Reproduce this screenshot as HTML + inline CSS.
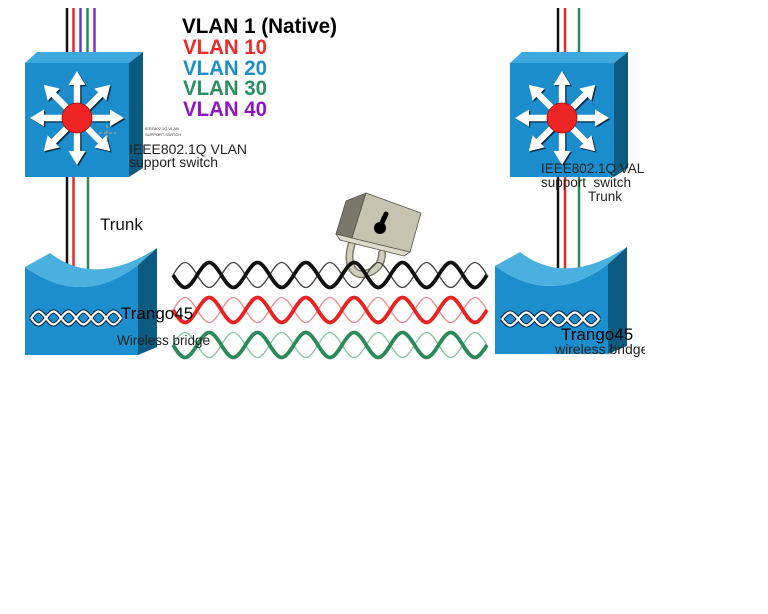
<!DOCTYPE html>
<html><head><meta charset="utf-8"><style>
html,body{margin:0;padding:0;background:#fff;}
svg{display:block;}
text{font-family:"Liberation Sans",Arial,sans-serif;}
</style></head><body>
<svg width="768" height="614" viewBox="0 0 768 614" xmlns="http://www.w3.org/2000/svg">
<defs>
  <polygon id="arr" points="14,-3.2 33,-3.2 33,-8.5 47,0 33,8.5 33,3.2 14,3.2"/>
  <g id="arrows">
    <g fill="#0b2a40" transform="translate(1.3,1.3)">
      <use href="#arr"/><use href="#arr" transform="rotate(45)"/><use href="#arr" transform="rotate(90)"/><use href="#arr" transform="rotate(135)"/>
      <use href="#arr" transform="rotate(180)"/><use href="#arr" transform="rotate(225)"/><use href="#arr" transform="rotate(270)"/><use href="#arr" transform="rotate(315)"/>
    </g>
    <g fill="#ffffff">
      <use href="#arr"/><use href="#arr" transform="rotate(45)"/><use href="#arr" transform="rotate(90)"/><use href="#arr" transform="rotate(135)"/>
      <use href="#arr" transform="rotate(180)"/><use href="#arr" transform="rotate(225)"/><use href="#arr" transform="rotate(270)"/><use href="#arr" transform="rotate(315)"/>
    </g>
    <circle cx="0" cy="0" r="15" fill="#ee2424" stroke="#9a1010" stroke-width="0.8"/>
  </g>
  <g id="switch">
    <polygon points="25,63 37,52 143,52 129,63" fill="#3fa9dd"/>
    <polygon points="129,63 143,52 143,168 129,177" fill="#0b5a80"/>
    <rect x="25" y="63" width="104" height="114" fill="#1b8ccc"/>
    <use href="#arrows" transform="translate(77,118)"/>
  </g>
  <path id="hxA" d="M0,0 c6.36,8.67 8.64,8.67 15,0 c6.36,-8.67 8.64,-8.67 15,0 c6.36,8.67 8.64,8.67 15,0 c6.36,-8.67 8.64,-8.67 15,0 c6.36,8.67 8.64,8.67 15,0 c6.36,-8.67 8.64,-8.67 15,0" fill="none"/>
  <path id="hxB" d="M0,0 c6.36,-8.67 8.64,-8.67 15,0 c6.36,8.67 8.64,8.67 15,0 c6.36,-8.67 8.64,-8.67 15,0 c6.36,8.67 8.64,8.67 15,0 c6.36,-8.67 8.64,-8.67 15,0 c6.36,8.67 8.64,8.67 15,0" fill="none"/>
  <g id="helix">
    <use href="#hxA" stroke="#0a2a40" stroke-width="4.2"/>
    <use href="#hxB" stroke="#0a2a40" stroke-width="4.2"/>
    <use href="#hxA" stroke="#ffffff" stroke-width="2.2"/>
    <use href="#hxB" stroke="#ffffff" stroke-width="2.2"/>
  </g>
  <g id="bridge">
    <path d="M138,265 L157,248 L157,347 L138,355 Z" fill="#0b5a80"/>
    <path d="M25,267 Q82,308 138,265 L138,355 L25,355 Z" fill="#1d8ecd"/>
    <path d="M25,267 L50,253 Q95,288 157,248 L138,265 Q82,308 25,267 Z" fill="#4ab0e0"/>
  </g>
  <path id="wDown" fill="none" d="M173,0 c10.24,16.67 13.91,16.67 24.15,0 c10.24,-16.67 13.91,-16.67 24.15,0 c10.24,16.67 13.91,16.67 24.15,0 c10.24,-16.67 13.91,-16.67 24.15,0 c10.24,16.67 13.91,16.67 24.15,0 c10.24,-16.67 13.91,-16.67 24.15,0 c10.24,16.67 13.91,16.67 24.15,0 c10.24,-16.67 13.91,-16.67 24.15,0 c10.24,16.67 13.91,16.67 24.15,0 c10.24,-16.67 13.91,-16.67 24.15,0 c10.24,16.67 13.91,16.67 24.15,0 c10.24,-16.67 13.91,-16.67 24.15,0 c10.24,16.67 13.91,16.67 24.15,0"/>
  <path id="wUp" fill="none" d="M173,0 c10.24,-16.67 13.91,-16.67 24.15,0 c10.24,16.67 13.91,16.67 24.15,0 c10.24,-16.67 13.91,-16.67 24.15,0 c10.24,16.67 13.91,16.67 24.15,0 c10.24,-16.67 13.91,-16.67 24.15,0 c10.24,16.67 13.91,16.67 24.15,0 c10.24,-16.67 13.91,-16.67 24.15,0 c10.24,16.67 13.91,16.67 24.15,0 c10.24,-16.67 13.91,-16.67 24.15,0 c10.24,16.67 13.91,16.67 24.15,0 c10.24,-16.67 13.91,-16.67 24.15,0 c10.24,16.67 13.91,16.67 24.15,0 c10.24,-16.67 13.91,-16.67 24.15,0"/>
  <clipPath id="clipR"><rect x="0" y="0" width="645" height="614"/></clipPath>
</defs>

<rect x="0" y="0" width="768" height="614" fill="#fff"/>

<g stroke-width="2.5">
  <line x1="67" y1="8" x2="67" y2="58" stroke="#111"/>
  <line x1="73.5" y1="8" x2="73.5" y2="58" stroke="#e82828"/>
  <line x1="80.5" y1="8" x2="80.5" y2="58" stroke="#6038c8"/>
  <line x1="87.5" y1="8" x2="87.5" y2="58" stroke="#2a8a5a"/>
  <line x1="94.5" y1="8" x2="94.5" y2="58" stroke="#8a2cc0"/>
  <line x1="67" y1="170" x2="67" y2="278" stroke="#111"/>
  <line x1="73.5" y1="170" x2="73.5" y2="278" stroke="#e82828"/>
  <line x1="88" y1="170" x2="88" y2="278" stroke="#2a8a5a"/>
  <line x1="558" y1="8" x2="558" y2="58" stroke="#111"/>
  <line x1="565" y1="8" x2="565" y2="58" stroke="#e82828"/>
  <line x1="579" y1="8" x2="579" y2="58" stroke="#2a8a5a"/>
  <line x1="558" y1="170" x2="558" y2="278" stroke="#111"/>
  <line x1="565" y1="170" x2="565" y2="278" stroke="#e82828"/>
  <line x1="579" y1="170" x2="579" y2="278" stroke="#2a8a5a"/>
</g>

<use href="#switch"/>
<use href="#switch" transform="translate(485,0)"/>

<use href="#bridge"/>
<use href="#bridge" transform="translate(470,-1)"/>
<use href="#helix" transform="translate(31,318)"/>
<use href="#helix" transform="translate(502,319) scale(1.08,1)"/>

<!-- lock shackle -->
<path d="M353,240 C345,262 352,276 364,274 C376,272 382,264 382,253" fill="none" stroke="#7f7e6c" stroke-width="8" stroke-linecap="round"/>
<path d="M353,240 C345,262 352,276 364,274 C376,272 382,264 382,253" fill="none" stroke="#cfcebb" stroke-width="5" stroke-linecap="round"/>

<g transform="translate(0,275)">
  <use href="#wUp" stroke="#444" stroke-width="1.3"/>
  <use href="#wDown" stroke="#111" stroke-width="3.8"/>
</g>
<g transform="translate(0,310)">
  <use href="#wUp" stroke="#f08a8a" stroke-width="1.3"/>
  <use href="#wDown" stroke="#ea2222" stroke-width="3.8"/>
</g>
<g transform="translate(0,345)">
  <use href="#wUp" stroke="#86c4a4" stroke-width="1.3"/>
  <use href="#wDown" stroke="#2a8a5a" stroke-width="3.8"/>
</g>

<!-- lock body -->
<polygon points="346,201 366,193 352,238 336,234" fill="#7a786a" stroke="#55544a" stroke-width="0.8"/>
<polygon points="336,234 352,238 410,252 404,256 340,240" fill="#dcdacb" stroke="#55544a" stroke-width="0.8"/>
<polygon points="366,193 421,213 410,252 352,238" fill="#c6c3b0" stroke="#55544a" stroke-width="0.8"/>
<line x1="380" y1="227" x2="386" y2="214" stroke="#000" stroke-width="5" stroke-linecap="round"/>
<circle cx="380" cy="228" r="6" fill="#000"/>

<g stroke="#c8a878" stroke-width="1" stroke-dasharray="3,2">
  <line x1="99" y1="133" x2="116" y2="133"/>
  <line x1="107" y1="125" x2="107" y2="142"/>
</g>
<text x="145" y="130" font-size="4" fill="#333">IEEE802.1Q VLAN</text>
<text x="145" y="136" font-size="4" fill="#333">SUPPORT SWITCH</text>

<g font-weight="bold">
  <text x="182" y="33" font-size="21" fill="#000" textLength="155" lengthAdjust="spacingAndGlyphs">VLAN 1 (Native)</text>
  <text x="183" y="54" font-size="21" fill="#ee2a2a" textLength="84" lengthAdjust="spacingAndGlyphs">VLAN 10</text>
  <text x="183" y="75" font-size="21" fill="#1a90c8" textLength="84" lengthAdjust="spacingAndGlyphs">VLAN 20</text>
  <text x="183" y="95" font-size="21" fill="#2a8f5f" textLength="84" lengthAdjust="spacingAndGlyphs">VLAN 30</text>
  <text x="183" y="116" font-size="21" fill="#9014c8" textLength="84" lengthAdjust="spacingAndGlyphs">VLAN 40</text>
</g>

<text x="129" y="154" font-size="13.5" fill="#222" textLength="118" lengthAdjust="spacingAndGlyphs">IEEE802.1Q VLAN</text>
<text x="129" y="167" font-size="13.5" fill="#222" textLength="89" lengthAdjust="spacingAndGlyphs">support switch</text>
<text x="100" y="230" font-size="17" fill="#111">Trunk</text>
<text x="121" y="319" font-size="17" fill="#000">Trango45</text>
<text x="117" y="345" font-size="13.5" fill="#222">Wireless bridge</text>

<g clip-path="url(#clipR)">
  <text x="541" y="173" font-size="13.5" fill="#222">IEEE802.1Q VAL</text>
  <text x="541" y="187" font-size="13.5" fill="#222" xml:space="preserve">support  switch</text>
  <text x="588" y="201" font-size="13.5" fill="#222">Trunk</text>
  <text x="561" y="340" font-size="17" fill="#000">Trango45</text>
  <text x="555" y="354" font-size="14" fill="#222">wireless bridge</text>
</g>
</svg>
</body></html>
